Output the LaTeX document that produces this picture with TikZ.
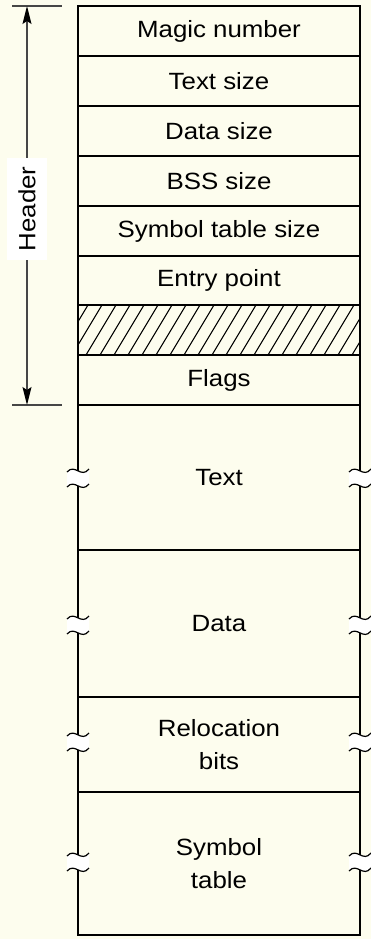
\documentclass[tikz,border=0pt]{standalone}
\usepackage{fontspec}
\setmainfont{Liberation Sans}[FakeStretch=1.1]
\usetikzlibrary{arrows.meta}
\definecolor{bg}{RGB}{253,253,238}
\definecolor{dim}{RGB}{70,70,70}
\tikzset{
  row/.style={draw, line width=2.5pt, minimum width=282pt, inner sep=0pt,
    font=\fontsize{23.5}{33}\selectfont, align=center, text=black},
  dimline/.style={dim, line width=1.5pt,
    arrows={Stealth[length=18pt,width=9pt,inset=3pt,black]-Stealth[length=18pt,width=9pt,inset=3pt,black]}},
  brk/.pic={
    \fill[white] (-11,-6) .. controls (-3,-15) and (3,1) .. (11,-9)
      -- (11,6) .. controls (3,16) and (-3,0) .. (-11,9) -- cycle;
    \draw[line width=1.2pt] (-11,-6) .. controls (-3,-15) and (3,1) .. (11,-9);
    \draw[line width=1.2pt] (-11,9) .. controls (-3,0) and (3,16) .. (11,6);
  }
}
\begin{document}
\begin{tikzpicture}[x=1pt,y=-1pt]
\fill[bg] (0,0) rectangle (371,939);
\useasboundingbox (0,0) rectangle (371,939);
% hatch
\begin{scope}
  \clip (78,305) rectangle (360,355);
  \foreach \x in {30,44,...,380} \draw[line width=1.1pt] (\x,355) -- (\x+30,305);
\end{scope}
% rows
\node[row, minimum height=50pt] (magic) at (219,31) {Magic number};
\node[row, minimum height=50pt] (tsize) at (219,81) {Text size};
\node[row, minimum height=50pt] (dsize) at (219,131) {Data size};
\node[row, minimum height=50pt] (bss) at (219,181) {BSS size};
\node[row, minimum height=50pt] (symsize) at (219,231) {Symbol table size};
\node[row, minimum height=49pt] (entry) at (219,280.5) {Entry point};
\node[row, minimum height=50pt] (hatch) at (219,330) {};
\node[row, minimum height=50pt] (flags) at (219,380) {Flags};
\node[row, minimum height=145pt] (text) at (219,477.5) {Text};
\node[row, minimum height=147pt] (data) at (219,623.5) {Data};
\node[row, minimum height=95pt] (reloc) at (219,744.5) {Relocation\\bits};
\node[row, minimum height=143pt] (symtab) at (219,863.5) {Symbol\\table};
% header dimension
\coordinate (t1) at (12,6);
\coordinate (t2) at (62,6);
\coordinate (b1) at (12,405);
\coordinate (b2) at (62,405);
\coordinate (htop) at (27,6);
\coordinate (hbot) at (27,405);
\draw[dim, line width=1.3pt] (t1) -- (t2);
\draw[dim, line width=1.3pt] (b1) -- (b2);
\draw[dimline] (htop) -- (hbot);
\node[fill=white, rotate=90, minimum width=102pt, minimum height=40pt, inner sep=0pt,
  font=\fontsize{23.5}{26}\selectfont] (hdr) at (27,209) {Header};
% break marks
\foreach \y in {478,625,742,862} {
  \pic at (78,\y) {brk};
  \pic at (360,\y) {brk};
}
\end{tikzpicture}
\end{document}
